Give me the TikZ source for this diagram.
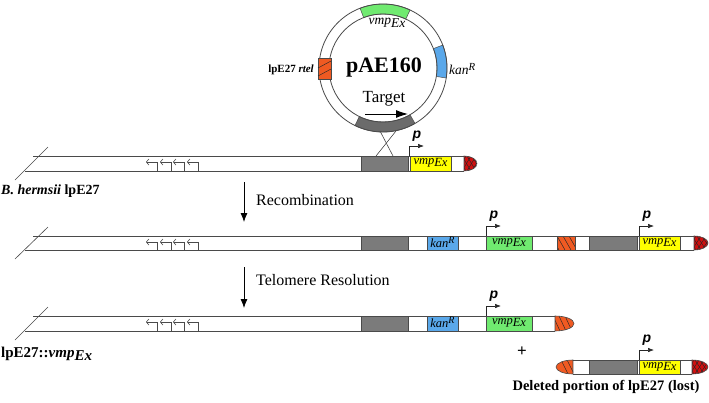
\documentclass[tikz,border=0pt]{standalone}
\usepackage{fontspec}
\setmainfont{Liberation Serif}
\newfontfamily\psans{Liberation Sans}
\usetikzlibrary{arrows.meta,calc}
\definecolor{greyseg}{HTML}{7B7B7B}
\definecolor{yellowseg}{HTML}{FFFF00}
\definecolor{greenseg}{HTML}{70EA70}
\definecolor{blueseg}{HTML}{5AA8EA}
\definecolor{rtelc}{HTML}{F05A22}
\definecolor{telc}{HTML}{D01010}
\definecolor{linec}{HTML}{4A4A4A}
\newcommand\vmpex{\textit{vmp}\raisebox{-0.5ex}{\textit{Ex}}}
\newcommand\kanr{\textit{kan}\raisebox{0.7ex}{\scalebox{0.8}{\textit{R}}}}
\tikzset{
  chr/.style={draw=linec,line width=0.6pt},
  segbox/.style={draw=linec,line width=0.5pt},
  hatchl/.style={draw=black!85,line width=0.45pt},
  pline/.style={draw=black!85,line width=0.6pt,-{Latex[length=6pt,width=4.5pt]}},
  plab/.style={inner sep=0pt,font=\psans\bfseries\itshape\fontsize{14}{16}\selectfont},
  boxtxt/.style={inner sep=0pt,font=\fontsize{12.5}{13}\selectfont},
  stepar/.style={draw=black,line width=0.8pt,-{Latex[length=9pt,width=7pt]}},
  backarrow/.style={chr,-{Straight Barb[length=2.5pt,width=6pt]}}
}
% chromosome body: top y, bottom y, end x
\newcommand\chrom[3]{%
  \draw[chr] (33,#1) -- (#3,#1);
  \draw[chr] (25,#2) -- (#3,#2);
  \draw[chr] (15,#2+9) -- (48,#1-9);
  \foreach \xx in {157,171,184,198}{\draw[backarrow] (\xx,#2) -- (\xx,#1+6) -- (\xx-11,#1+6);}
}
% segment: x1 T x2 B colour
\newcommand\seg[5]{\filldraw[segbox,fill=#5] (#1,#2) rectangle (#3,#4);}
% promoter: x T name
\newcommand\prom[3]{%
  \draw[pline] (#1,#2) -- (#1,#2-10) -- (#1+15,#2-10);
  \node[plab] (#3) at (#1+8,#2-20) {p};
}
% crosshatched telomere cap, rounded right: x T B rx
\newcommand\telcapR[4]{%
  \begin{scope}
    \clip (#1,#2) arc[start angle=-90,end angle=90,x radius=#4,y radius={(#3-#2)/2}] -- cycle;
    \fill[telc] (#1,#2) rectangle (#1+#4,#3);
    \foreach \k in {-12,-7,...,18}{\draw[hatchl] (#1+\k,#2) -- (#1+\k+9,#3); \draw[hatchl] (#1+\k+9,#2) -- (#1+\k,#3);}
  \end{scope}
  \draw[chr] (#1,#2) arc[start angle=-90,end angle=90,x radius=#4,y radius={(#3-#2)/2}] -- cycle;
}
% striped rtel cap, rounded right
\newcommand\rtelcapR[4]{%
  \begin{scope}
    \clip (#1,#2) arc[start angle=-90,end angle=90,x radius=#4,y radius={(#3-#2)/2}] -- cycle;
    \fill[rtelc] (#1,#2) rectangle (#1+#4,#3);
    \foreach \k in {-2,4,10}{\draw[hatchl] (#1+\k,#2) -- (#1+\k+7,#3);}
  \end{scope}
  \draw[chr] (#1,#2) arc[start angle=-90,end angle=90,x radius=#4,y radius={(#3-#2)/2}] -- cycle;
}
% striped rtel cap, rounded left
\newcommand\rtelcapL[4]{%
  \begin{scope}
    \clip (#1,#2) arc[start angle=-90,end angle=-270,x radius=#4,y radius={(#3-#2)/2}] -- cycle;
    \fill[rtelc] (#1-#4,#2) rectangle (#1,#3);
    \foreach \k in {-12,-6,0}{\draw[hatchl] (#1+\k,#2) -- (#1+\k+7,#3);}
  \end{scope}
  \draw[chr] (#1,#2) arc[start angle=-90,end angle=-270,x radius=#4,y radius={(#3-#2)/2}] -- cycle;
}
\begin{document}
\begin{tikzpicture}[x=1pt,y=-1pt]
\useasboundingbox (0,0) rectangle (709,402);
\fill[white] (0,0) rectangle (709,402);

% ---------- plasmid ----------
\begin{scope}[shift={(383,68)}]
  \filldraw[segbox,fill=greenseg] (-111:54) arc[start angle=-111,end angle=-65,radius=54] -- (-65:64) arc[start angle=-65,end angle=-111,radius=64] -- cycle;
  \filldraw[segbox,fill=blueseg] (-21:54) arc[start angle=-21,end angle=9,radius=54] -- (9:64) arc[start angle=9,end angle=-21,radius=64] -- cycle;
  \filldraw[segbox,fill=black!58] (60:54) arc[start angle=60,end angle=116,radius=54] -- (116:64) arc[start angle=116,end angle=60,radius=64] -- cycle;
  \draw[draw=linec,line width=0.8pt] (0,0) circle[radius=64];
  \draw[draw=linec,line width=0.8pt] (0,0) circle[radius=54];
\end{scope}
\filldraw[segbox,fill=rtelc] (318,58) rectangle (331,79);
\draw[hatchl] (318,68) -- (331,61);
\draw[hatchl] (318,76) -- (331,69);
\node[font=\bfseries\fontsize{22}{24}\selectfont,inner sep=0pt] (pname) at (384,68) {pAE160};
\node[font=\fontsize{17}{19}\selectfont,inner sep=0pt] (target) at (384,99) {Target};
\coordinate (ta) at (365,114);
\coordinate (tb) at (408,114);
\draw[draw=black,line width=1pt,-{Latex[length=12pt,width=8pt]}] (ta) -- (tb);
\node[font=\fontsize{13.5}{15}\selectfont,inner sep=0pt] (pv) at (387,23) {\vmpex};
\node[font=\fontsize{13.5}{15}\selectfont,inner sep=0pt,anchor=west] (pk) at (449,69) {\kanr};
\node[font=\fontsize{11}{13}\selectfont,inner sep=0pt,anchor=east] (pr) at (314,70) {\textbf{lpE27 \textit{rtel}}};
% crossover
\coordinate (x1) at (376,156);
\coordinate (x2) at (396,131);
\coordinate (x3) at (380,131);
\coordinate (x4) at (393,156);
\draw[chr] (x1) -- (x2);
\draw[chr] (x3) -- (x4);

% ---------- row 1 ----------
\chrom{156}{171}{464}
\seg{361}{156}{408}{171}{greyseg}
\seg{410}{156}{451}{171}{yellowseg}
\node[boxtxt] (v1) at (430.5,162.5) {\vmpex};
\prom{409}{156}{p1}
\telcapR{464}{156}{171}{13}
\node[anchor=west,inner sep=0pt,font=\bfseries\fontsize{14}{16}\selectfont] (l1) at (1,191) {\textit{B. hermsii} lpE27};

% step arrows
\coordinate (a1) at (244,182);
\coordinate (a2) at (244,222);
\draw[stepar] (a1) -- (a2);
\node[anchor=west,inner sep=0pt,font=\fontsize{16}{18}\selectfont] (rec) at (256,200) {Recombination};
\coordinate (b1) at (244,267);
\coordinate (b2) at (244,308);
\draw[stepar] (b1) -- (b2);
\node[anchor=west,inner sep=0pt,font=\fontsize{16}{18}\selectfont] (tel) at (256,280) {Telomere Resolution};

% ---------- row 2 ----------
\chrom{236}{250}{694}
\seg{361}{236}{408}{250}{greyseg}
\seg{427}{236}{458}{250}{blueseg}
\node[boxtxt] (k2) at (442.5,242.5) {\kanr};
\seg{486}{236}{532}{250}{greenseg}
\node[boxtxt] (v2) at (509,242.5) {\vmpex};
\prom{486}{236}{p2}
\begin{scope}
  \clip (557,236) rectangle (575,250);
  \fill[rtelc] (557,236) rectangle (575,250);
  \foreach \k in {-6,0,6,12}{\draw[hatchl] (557+\k,236) -- (557+\k+8,250);}
\end{scope}
\draw[segbox] (557,236) rectangle (575,250);
\seg{589}{236}{637}{250}{greyseg}
\seg{639}{236}{680}{250}{yellowseg}
\node[boxtxt] (v3) at (659.5,242.5) {\vmpex};
\prom{639}{236}{p3}
\telcapR{694}{236}{250}{14}

% ---------- row 3 ----------
\chrom{316}{331}{555}
\seg{361}{316}{408}{331}{greyseg}
\seg{427}{316}{458}{331}{blueseg}
\node[boxtxt] (k3) at (442.5,322.5) {\kanr};
\seg{486}{316}{532}{331}{greenseg}
\node[boxtxt] (v4) at (509,322.5) {\vmpex};
\prom{486}{316}{p4}
\rtelcapR{555}{316}{331}{19}
\node[anchor=west,inner sep=0pt,font=\bfseries\fontsize{15}{17}\selectfont] (l3) at (1,354) {lpE27::\textit{vmp}\raisebox{-0.45ex}{\textit{Ex}}};
\node[inner sep=0pt,font=\bfseries\fontsize{17}{19}\selectfont] (plus) at (522,352) {+};

% ---------- deleted fragment ----------
\draw[chr] (573,360) -- (692,360);
\draw[chr] (573,374) -- (692,374);
\rtelcapL{573}{360}{374}{17}
\seg{589}{360}{637}{374}{greyseg}
\seg{639}{360}{680}{374}{yellowseg}
\node[boxtxt] (v5) at (659.5,366.5) {\vmpex};
\prom{639}{360}{p5}
\telcapR{692}{360}{374}{16}
\node[inner sep=0pt,font=\bfseries\fontsize{14.5}{16}\selectfont] (del) at (606,387) {Deleted portion of lpE27 (lost)};
\end{tikzpicture}
\end{document}
